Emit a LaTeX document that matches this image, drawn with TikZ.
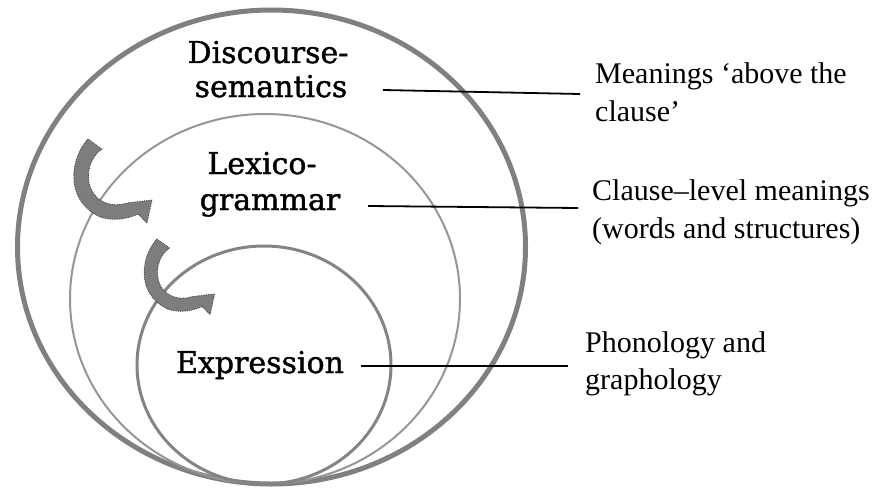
\documentclass[tikz,border=0pt]{standalone}
\usepackage{fontspec}
\setmainfont{Liberation Serif}
\newfontfamily\slabfont[FakeBold=1.3]{DejaVu Serif}
\definecolor{outergray}{RGB}{128,128,128}
\definecolor{midgray}{RGB}{150,150,150}
\definecolor{innergray}{RGB}{132,132,132}
\definecolor{arrowgray}{RGB}{125,125,125}
\definecolor{arrowedge}{RGB}{60,60,60}
\begin{document}
\begin{tikzpicture}[x=1pt,y=-1pt,
  leftlab/.style={font=\slabfont\fontsize{30}{30}\selectfont, anchor=base, inner sep=0pt},
  rightlab/.style={font=\fontsize{30}{30}\selectfont, anchor=base west, inner sep=0pt},
  conn/.style={draw=black, line width=1.8pt},
  curvarrow/.style={fill=arrowgray, draw=arrowedge, line width=0.8pt, densely dotted}]
\useasboundingbox (0,0) rectangle (880,487);
% rings
\draw[draw=outergray, line width=5pt] (271.5,247) ellipse [x radius=254pt, y radius=237pt];
\draw[draw=midgray, line width=2pt] (265,299) ellipse [x radius=195pt, y radius=185pt];
\draw[draw=innergray, line width=3pt] (264,365) ellipse [x radius=127pt, y radius=119pt];
% bent arrows
\begin{scope}[shift={(88,139)}]
\path[curvarrow] (0,0) .. controls (-18,19) and (-24,61) .. (12,78) .. controls (27,83) and (42,79) .. (50,75) -- (59,84) -- (64,61) -- (39,64) .. controls (17,71) and (-3,56) .. (1,31) .. controls (3,21) and (8,14) .. (14,10) -- cycle;
\end{scope}
\begin{scope}[shift={(157,239)}, scale=0.9]
\path[curvarrow] (0,0) .. controls (-18,19) and (-24,61) .. (12,78) .. controls (27,83) and (42,79) .. (50,75) -- (59,84) -- (64,61) -- (39,64) .. controls (17,71) and (-3,56) .. (1,31) .. controls (3,21) and (8,14) .. (14,10) -- cycle;
\end{scope}
% left labels
\node[leftlab] (ds1) at (268,63) {Discourse-};
\node[leftlab] (ds2) at (271,97) {semantics};
\node[leftlab] (lg1) at (262,174) {Lexico-};
\node[leftlab] (lg2) at (270,210) {grammar};
\node[leftlab] (ex) at (260,373) {Expression};
% right labels
\node[rightlab] (m1) at (595,83) {Meanings ‘above the};
\node[rightlab] (m2) at (595,121) {clause’};
\node[rightlab] (c1) at (592,200) {Clause–level meanings};
\node[rightlab] (c2) at (592,238) {(words and structures)};
\node[rightlab] (p1) at (585,352) {Phonology and};
\node[rightlab] (p2) at (585,389) {graphology};
% connectors
\coordinate (a1) at (383,90);
\coordinate (b1) at (580,94);
\coordinate (a2) at (368,206);
\coordinate (b2) at (578,208);
\coordinate (a3) at (361,366);
\coordinate (b3) at (568,366);
\draw[conn] (a1) -- (b1);
\draw[conn] (a2) -- (b2);
\draw[conn] (a3) -- (b3);
\end{tikzpicture}
\end{document}
